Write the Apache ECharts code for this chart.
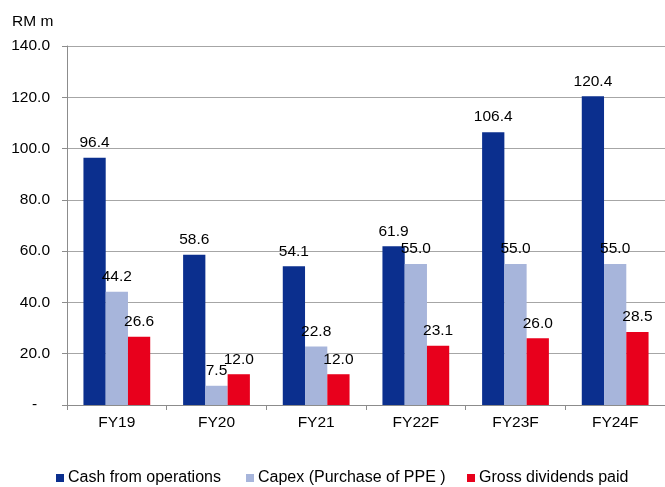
<!DOCTYPE html>
<html>
<head>
<meta charset="utf-8">
<script src="https://cdn.jsdelivr.net/npm/echarts@6/dist/echarts.min.js"></script>
<style>
  html, body { margin: 0; padding: 0; background: #fff; }
  #chart { width: 665px; height: 487px; }
</style>
</head>
<body>
<div id="chart"></div>
<script>
// Fiscal years (F = forecast)
const categories = ['FY19', 'FY20', 'FY21', 'FY22F', 'FY23F', 'FY24F'];
// RM million
const cashFromOperations = [96.4, 58.6, 54.1, 61.9, 106.4, 120.4];
const capex = [44.2, 7.5, 22.8, 55.0, 55.0, 55.0];
const grossDividends = [26.6, 12.0, 12.0, 23.1, 26.0, 28.5];
const seriesNames = ['Cash from operations', 'Capex (Purchase of PPE )', 'Gross dividends paid'];
const seriesColors = ['#0B2F8E', '#A7B5DB', '#E8001C'];

const font = 'Liberation Sans, Arial, sans-serif';
const fs = 15.5;

function barSeries(name, data, color) {
  return {
    name: name,
    type: 'bar',
    data: data,
    barGap: '0%',
    barCategoryGap: '33%',
    itemStyle: { color: color },
    label: {
      show: true,
      position: 'top',
      distance: 7,
      color: '#000',
      fontFamily: font,
      fontSize: fs,
      formatter: p => p.value.toFixed(1)
    }
  };
}

// one legend block per series so each key sits at its own x
const legendLefts = [56, 246, 467];
const legends = seriesNames.map((name, i) => ({
  top: 470,
  left: legendLefts[i],
  padding: 0,
  itemWidth: 8,
  itemHeight: 8,
  itemGap: 0,
  icon: 'rect',
  textStyle: { fontFamily: font, fontSize: 16, color: '#000', padding: [0, 0, 0, -1] },
  data: [name]
}));

const chart = echarts.init(document.getElementById('chart'), null, { renderer: 'canvas' });
chart.setOption({
  animation: false,
  backgroundColor: '#fff',
  grid: { left: 67, top: 46, width: 603, height: 359, containLabel: false },
  graphic: [{
    type: 'text',
    left: 12,
    top: 14,
    style: { text: 'RM m', fill: '#000', font: fs + 'px ' + font }
  }],
  legend: legends,
  xAxis: {
    type: 'category',
    data: categories,
    axisLine: { lineStyle: { color: '#8C8C8C', width: 1 } },
    axisTick: { show: true, length: 5, lineStyle: { color: '#8C8C8C' } },
    axisLabel: { color: '#000', fontFamily: font, fontSize: fs, margin: 10 }
  },
  yAxis: {
    type: 'value',
    min: 0,
    max: 140,
    interval: 20,
    axisLine: { show: true, lineStyle: { color: '#8C8C8C' } },
    axisTick: { show: true, length: 5, inside: false, lineStyle: { color: '#8C8C8C' } },
    splitLine: { lineStyle: { color: '#A6A6A6', width: 1 } },
    axisLabel: {
      color: '#000',
      fontFamily: font,
      fontSize: fs,
      margin: 17,
      formatter: v => v === 0 ? '-   ' : v.toFixed(1)
    }
  },
  series: [
    barSeries(seriesNames[0], cashFromOperations, seriesColors[0]),
    barSeries(seriesNames[1], capex, seriesColors[1]),
    barSeries(seriesNames[2], grossDividends, seriesColors[2])
  ]
});
</script>
</body>
</html>
